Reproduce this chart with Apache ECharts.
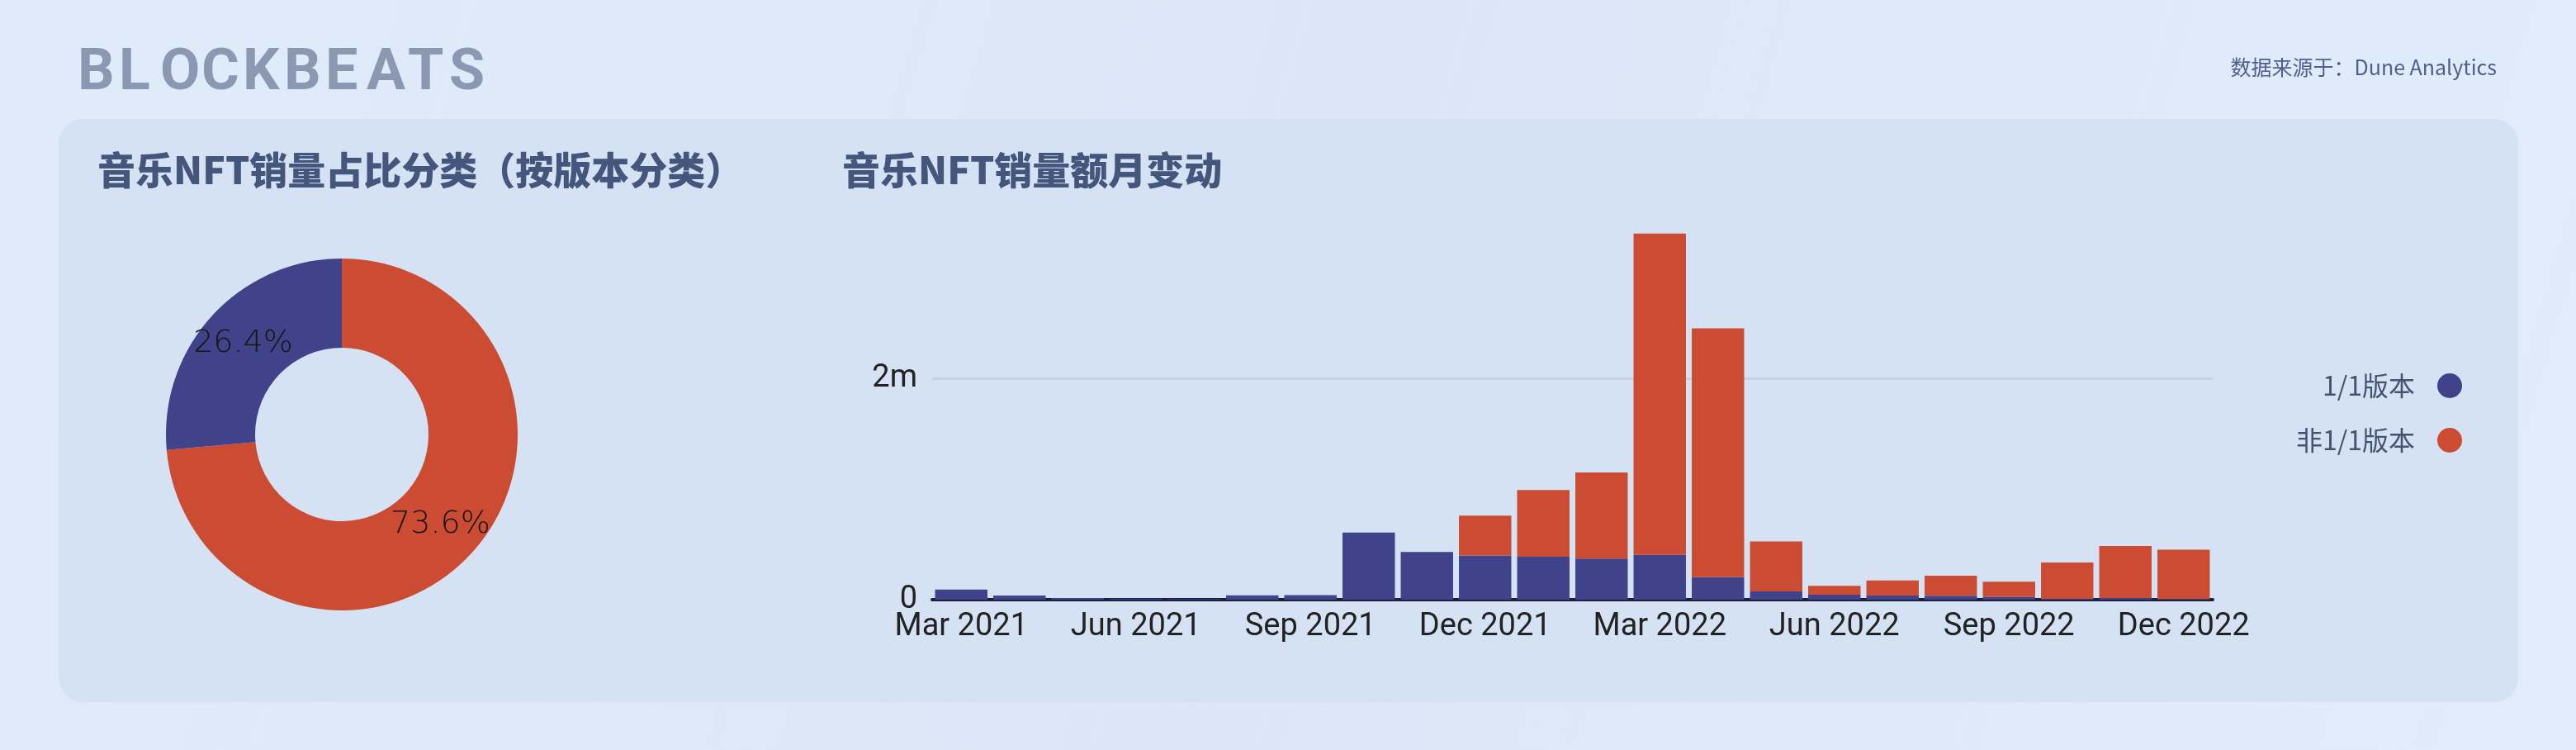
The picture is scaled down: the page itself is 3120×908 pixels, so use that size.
<!DOCTYPE html>
<html>
<head>
<meta charset="utf-8">
<script src="https://cdn.jsdelivr.net/npm/echarts@6/dist/echarts.min.js"></script>
<style>
html,body{margin:0;padding:0;width:3120px;height:908px;overflow:hidden;background:#dde9fa;}
#c{width:3120px;height:908px;}
</style>
</head>
<body>
<div id="c"></div>
<script>
const months = ['Mar 2021','Apr 2021','May 2021','Jun 2021','Jul 2021','Aug 2021','Sep 2021','Oct 2021','Nov 2021','Dec 2021','Jan 2022','Feb 2022','Mar 2022','Apr 2022','May 2022','Jun 2022','Jul 2022','Aug 2022','Sep 2022','Oct 2022','Nov 2022','Dec 2022'];
const oneOfOne = [92000,38000,15000,7000,5000,40000,42000,608000,431000,399000,389000,371000,406000,204000,75000,45000,37000,35000,25000,7000,15000,5000];
const nonOneOfOne = [0,0,0,0,0,0,0,0,0,361000,603000,780000,2907000,2250000,451000,80000,137000,182000,137000,329000,471000,448000];
const seriesNames = ['1/1版本','非1/1版本'];
const pieShares = [26.4, 73.6];
const yTicks = [0, 2000000];
const logoText = 'BLOCKBEATS';

const BLUE = '#404389';
const RED = '#cc4c33';

const chart = echarts.init(document.getElementById('c'), null, {renderer:'canvas', width:3120, height:908});

// logo letters spaced out (letter spacing is not supported by canvas text)
const logoLetters = logoText.split('').map((ch, i) => ({
  type:'text', x: i * 50, y: 0,
  style:{text:ch, fill:'#8a98b1', font:'bold 70px Roboto', textVerticalAlign:'top'}
}));

chart.setOption({
  backgroundColor: {
    type:'linear', x:0, y:0, x2:1, y2:1,
    colorStops:[{offset:0,color:'#e0ebfa'},{offset:0.5,color:'#dbe7f8'},{offset:1,color:'#e1ecfb'}]
  },
  animation:false,
  graphic:[
    {type:'rect', z:-10, shape:{x:71,y:144,width:2979,height:706,r:30}, style:{fill:'#d4e2f4'}},
    {type:'group', x:94, y:55, children:logoLetters},
    {type:'text', right:96, top:69, style:{text:'数据来源于：Dune Analytics', fill:'#4e5f8c', font:'25px "Noto Sans CJK SC"'}},
    {type:'text', left:118, top:183, style:{text:'音乐NFT销量占比分类（按版本分类）', fill:'#44567c', font:'900 46px "Noto Sans CJK SC"'}},
    {type:'text', left:1020, top:183, style:{text:'音乐NFT销量额月变动', fill:'#44567c', font:'900 46px "Noto Sans CJK SC"'}}
  ],
  legend:{
    orient:'vertical', right:133, top:446, align:'right',
    icon:'circle', itemWidth:30, itemHeight:30, itemGap:34,
    data:seriesNames,
    textStyle:{fontSize:32, color:'#44546f', fontFamily:'"Noto Sans CJK SC"', padding:[0,22,0,0]}
  },
  grid:{left:1129, right:440, top:271, bottom:182, containLabel:false},
  xAxis:{
    type:'category', data:months,
    axisLine:{lineStyle:{color:'#1b213d', width:4}},
    axisTick:{show:false},
    axisLabel:{interval:2, fontSize:38, color:'#222', fontFamily:'Roboto', margin:14}
  },
  yAxis:{
    type:'value', min:0, max:3400000, interval:2000000,
    axisLine:{show:false}, axisTick:{show:false},
    axisLabel:{showMaxLabel:false, fontSize:38, color:'#222', fontFamily:'Roboto', margin:18,
      formatter:v => yTicks.indexOf(v) >= 0 ? (v===0 ? '0' : (v/1000000)+'m') : ''},
    splitLine:{showMinLine:false, showMaxLine:false, lineStyle:{color:'#c3d1e5', width:3}}
  },
  series:[
    {name:seriesNames[0], type:'bar', stack:'t', data:oneOfOne, barCategoryGap:'10%', itemStyle:{color:BLUE}},
    {name:seriesNames[1], type:'bar', stack:'t', data:nonOneOfOne, barCategoryGap:'10%', itemStyle:{color:RED}},
    {
      type:'pie', center:[414,526], radius:[105,213], startAngle:90, clockwise:true,
      percentPrecision:1, legendHoverLink:false,
      label:{position:'inside', formatter:'{d}%', fontSize:38, color:'#151515', fontFamily:'"DejaVu Sans"', fontWeight:'lighter'},
      labelLine:{show:false},
      data:[
        {name:'非1/1版本 ', value:pieShares[1], itemStyle:{color:RED}},
        {name:'1/1版本 ', value:pieShares[0], itemStyle:{color:BLUE}}
      ]
    }
  ]
});
</script>
</body>
</html>
